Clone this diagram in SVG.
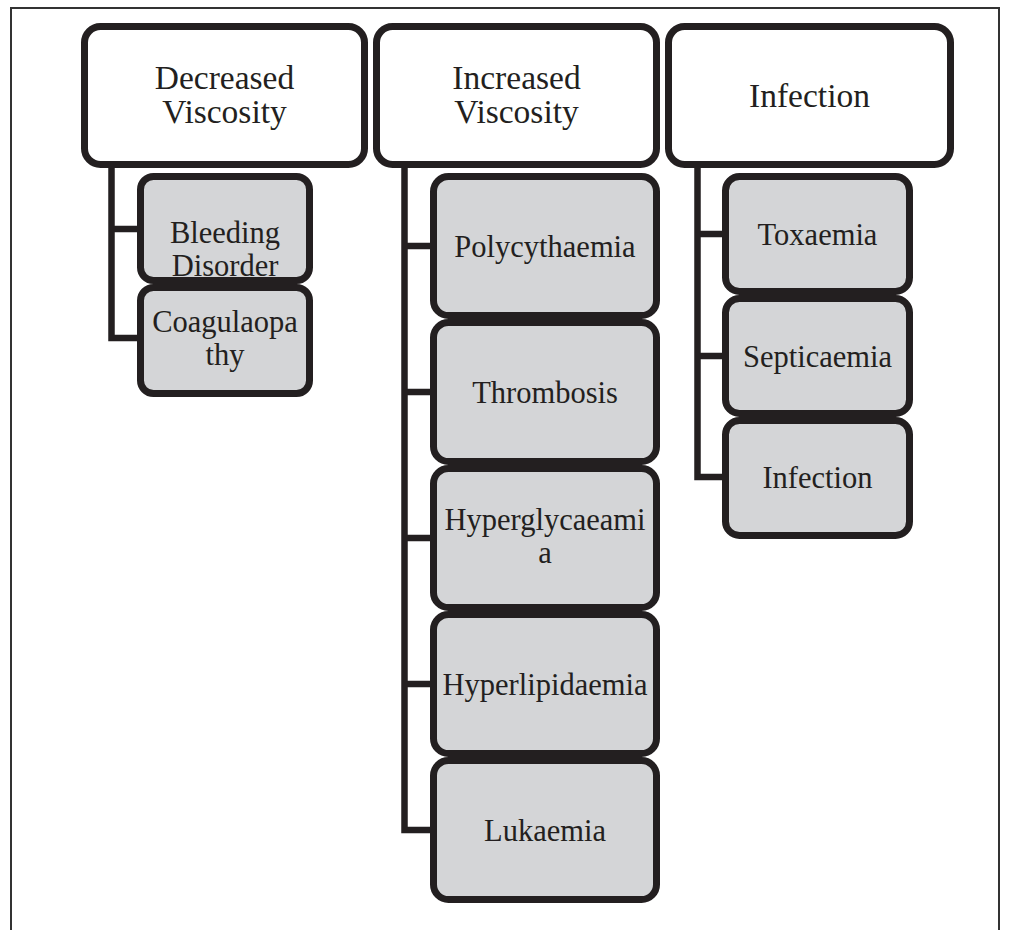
<svg xmlns="http://www.w3.org/2000/svg" width="1010" height="930" viewBox="0 0 1010 930">
<style>
.frame{fill:none;stroke:#333;stroke-width:2}
.parent rect{fill:#fff;stroke:#231f20;stroke-width:7}
.child rect{fill:#d4d5d7;stroke:#231f20;stroke-width:7}
.conn path{fill:none;stroke:#231f20;stroke-width:6.5;stroke-linejoin:miter;stroke-linecap:butt}
text{font-family:"Liberation Serif","Times New Roman",serif;fill:#231f20;text-anchor:middle}
.pt{font-size:33.5px}
.ct{font-size:30.5px}
</style>
<rect width="1010" height="930" fill="#fff"/>
<path class="frame" d="M11 930 V8 H999 V930"/>
<g class="conn" id="connectors">
<path d="M111.5 167 V338 H140 M111.5 229 H140"/>
<path d="M404.5 167 V830 H433 M404.5 246 H433 M404.5 392 H433 M404.5 538 H433 M404.5 684 H433"/>
<path d="M697.5 167 V477 H725 M697.5 234 H725 M697.5 356 H725"/>
</g>
<g class="parent" id="decreased-viscosity"><rect x="84.5" y="26.5" width="280" height="138" rx="16"/><text class="pt" x="224.5" y="89">Decreased</text><text class="pt" x="224.5" y="123">Viscosity</text></g>
<g class="parent" id="increased-viscosity"><rect x="376.5" y="26.5" width="280" height="138" rx="16"/><text class="pt" x="516.5" y="89">Increased</text><text class="pt" x="516.5" y="123">Viscosity</text></g>
<g class="parent" id="infection"><rect x="668.5" y="26.5" width="282" height="138" rx="16"/><text class="pt" x="809.5" y="107">Infection</text></g>
<g class="child" id="bleeding-disorder"><rect x="140.5" y="176.5" width="169" height="104" rx="13"/><text class="ct" x="225" y="243">Bleeding</text><text class="ct" x="225" y="276">Disorder</text></g>
<g class="child" id="coagulaopathy"><rect x="140.5" y="287.5" width="169" height="106" rx="13"/><text class="ct" x="225" y="332">Coagulaopa</text><text class="ct" x="225" y="365">thy</text></g>
<g class="child" id="polycythaemia"><rect x="433.5" y="176.5" width="223" height="139" rx="15"/><text class="ct" x="545" y="256.5">Polycythaemia</text></g>
<g class="child" id="thrombosis"><rect x="433.5" y="322.5" width="223" height="139" rx="15"/><text class="ct" x="545" y="402.5">Thrombosis</text></g>
<g class="child" id="hyperglycaeamia"><rect x="433.5" y="468.5" width="223" height="139" rx="15"/><text class="ct" x="545" y="530">Hyperglycaeami</text><text class="ct" x="545" y="563">a</text></g>
<g class="child" id="hyperlipidaemia"><rect x="433.5" y="614.5" width="223" height="139" rx="15"/><text class="ct" x="545" y="694.5">Hyperlipidaemia</text></g>
<g class="child" id="lukaemia"><rect x="433.5" y="760.5" width="223" height="139" rx="15"/><text class="ct" x="545" y="840.5">Lukaemia</text></g>
<g class="child" id="toxaemia"><rect x="725.5" y="176.5" width="184" height="115" rx="14"/><text class="ct" x="817.5" y="244.5">Toxaemia</text></g>
<g class="child" id="septicaemia"><rect x="725.5" y="298.5" width="184" height="115" rx="14"/><text class="ct" x="817.5" y="366.5">Septicaemia</text></g>
<g class="child" id="infection-child"><rect x="725.5" y="420.5" width="184" height="115" rx="14"/><text class="ct" x="817.5" y="487.5">Infection</text></g>
</svg>
